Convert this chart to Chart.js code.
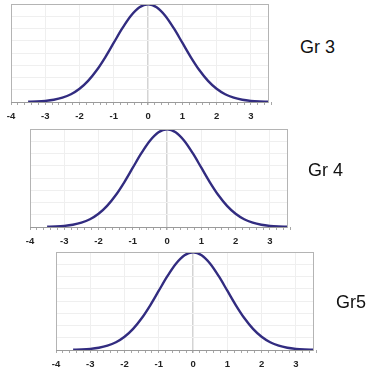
<!DOCTYPE html>
<html>
<head>
<meta charset="utf-8">
<script src="https://cdn.jsdelivr.net/npm/chart.js@4/dist/chart.umd.min.js"></script>
<style>
  html, body { margin: 0; padding: 0; background: #fff; }
  body { width: 379px; height: 382px; position: relative; overflow: hidden; font-family: "Liberation Sans", Arial, sans-serif; }
  .panel { position: absolute; width: 280px; height: 124px; }
  .lbl { position: absolute; font-size: 18px; color: #111; font-family: "Liberation Sans", Arial, sans-serif; white-space: nowrap; }
</style>
</head>
<body>
<div class="panel" style="left:0px; top:0px;"><canvas id="c0" width="280" height="124"></canvas></div>
<div class="panel" style="left:19px; top:125px;"><canvas id="c1" width="280" height="124"></canvas></div>
<div class="panel" style="left:45px; top:248px;"><canvas id="c2" width="280" height="124"></canvas></div>
<div class="lbl" style="left:300px; top:37px;">Gr 3</div>
<div class="lbl" style="left:308px; top:160px;">Gr 4</div>
<div class="lbl" style="left:336px; top:292px;">Gr5</div>
<script>
// ---- data ----
const groupNames = ["Gr 3", "Gr 4", "Gr5"];
const xValues = [-3.5, -3.25, -3, -2.75, -2.5, -2.25, -2, -1.75, -1.5, -1.25, -1, -0.75, -0.5, -0.25, 0,
                 0.25, 0.5, 0.75, 1, 1.25, 1.5, 1.75, 2, 2.25, 2.5, 2.75, 3, 3.25, 3.5];
const gr3Values = [0.0009, 0.0020, 0.0044, 0.0091, 0.0175, 0.0317, 0.0540, 0.0863, 0.1295, 0.1826, 0.2420, 0.3011, 0.3521, 0.3867, 0.3989,
                   0.3867, 0.3521, 0.3011, 0.2420, 0.1826, 0.1295, 0.0863, 0.0540, 0.0317, 0.0175, 0.0091, 0.0044, 0.0020, 0.0009];
const gr4Values = [0.0009, 0.0020, 0.0044, 0.0091, 0.0175, 0.0317, 0.0540, 0.0863, 0.1295, 0.1826, 0.2420, 0.3011, 0.3521, 0.3867, 0.3989,
                   0.3867, 0.3521, 0.3011, 0.2420, 0.1826, 0.1295, 0.0863, 0.0540, 0.0317, 0.0175, 0.0091, 0.0044, 0.0020, 0.0009];
const gr5Values = [0.0009, 0.0020, 0.0044, 0.0091, 0.0175, 0.0317, 0.0540, 0.0863, 0.1295, 0.1826, 0.2420, 0.3011, 0.3521, 0.3867, 0.3989,
                   0.3867, 0.3521, 0.3011, 0.2420, 0.1826, 0.1295, 0.0863, 0.0540, 0.0317, 0.0175, 0.0091, 0.0044, 0.0020, 0.0009];
const xTickLabels = [-4, -3, -2, -1, 0, 1, 2, 3];
const xMin = -4, xMax = 3.5;
const yMin = 0, yMax = 0.4, yStep = 0.05;
const minorPerUnit = 5;

const seriesList = [gr3Values, gr4Values, gr5Values];

const boxPlugin = {
  id: 'box',
  afterDraw(chart) {
    const a = chart.chartArea, ctx = chart.ctx;
    ctx.save();
    ctx.strokeStyle = '#b4b4b4';
    ctx.lineWidth = 1;
    ctx.strokeRect(Math.round(a.left) + 0.5, Math.round(a.top) + 0.5, Math.round(a.right - a.left), Math.round(a.bottom - a.top));
    ctx.strokeStyle = '#9a9a9a';
    ctx.beginPath();
    ctx.moveTo(a.left, Math.round(a.bottom) + 0.5);
    ctx.lineTo(a.right, Math.round(a.bottom) + 0.5);
    ctx.stroke();
    ctx.restore();
  }
};

function isMajor(v) { return Math.abs(v - Math.round(v)) < 1e-6; }

seriesList.forEach((vals, i) => {
  new Chart(document.getElementById('c' + i), {
    type: 'line',
    data: {
      datasets: [{
        label: groupNames[i],
        data: xValues.map((x, k) => ({ x: x, y: vals[k] })),
        borderColor: '#322c80',
        borderWidth: 2.4,
        pointRadius: 0,
        fill: false,
        cubicInterpolationMode: 'monotone'
      }]
    },
    options: {
      responsive: false,
      animation: false,
      layout: { padding: { left: 11, right: 12, top: 4, bottom: 2 } },
      plugins: { legend: { display: false }, tooltip: { enabled: false } },
      scales: {
        x: {
          type: 'linear',
          min: xMin, max: xMax,
          afterBuildTicks(scale) {
            const t = [];
            const start = Math.round(xMin * minorPerUnit), end = Math.round(xMax * minorPerUnit);
            for (let k = start; k <= end; k++) t.push({ value: k / minorPerUnit });
            scale.ticks = t;
          },
          afterFit(scale) { scale.height = 20; },
          grid: {
            drawOnChartArea: true,
            color(ctx) {
              const v = ctx.tick ? ctx.tick.value : null;
              if (v === null) return 'transparent';
              if (Math.abs(v) < 1e-6) return '#d4d4d4';
              if (isMajor(v) && xTickLabels.includes(Math.round(v))) return '#efefef';
              return 'transparent';
            },
            tickColor: '#a8a8a8',
            tickLength: 3,
            lineWidth(ctx) { return (ctx.tick && Math.abs(ctx.tick.value) < 1e-6) ? 1.5 : 1; }
          },
          border: { display: false },
          ticks: {
            autoSkip: false,
            maxRotation: 0,
            padding: 6,
            color: '#222',
            font: { family: '"Liberation Sans", Arial, sans-serif', size: 9.5, weight: 'bold' },
            callback(v) {
              if (!isMajor(v)) return '';
              const r = Math.round(v);
              return xTickLabels.includes(r) ? String(r) : '';
            }
          }
        },
        y: {
          type: 'linear',
          min: yMin, max: yMax,
          afterFit(scale) { scale.width = 0; },
          ticks: { display: false, stepSize: yStep },
          grid: { color: '#efefef', drawTicks: false },
          border: { display: false }
        }
      }
    },
    plugins: [boxPlugin]
  });
});
</script>
</body>
</html>
